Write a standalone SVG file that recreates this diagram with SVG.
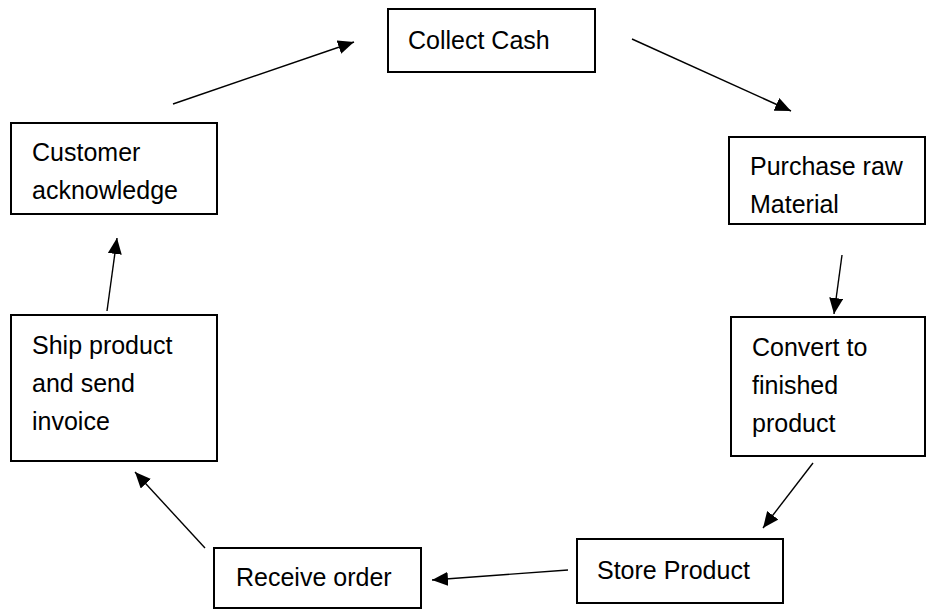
<svg xmlns="http://www.w3.org/2000/svg" width="926" height="609" viewBox="0 0 926 609">
<defs>
<style>
.box{fill:#fff;stroke:#000;stroke-width:2}
.t{font-family:"Liberation Sans",Arial,sans-serif;font-size:25px;fill:#000}
.c{stroke:#000;stroke-width:1.4;fill:none;marker-end:url(#ah)}
</style>
<marker id="ah" markerUnits="userSpaceOnUse" markerWidth="18" markerHeight="14" refX="16" refY="7" orient="auto">
<path d="M0,0 L16,7 L0,14 Z" fill="#000"/>
</marker>
</defs>
<rect width="926" height="609" fill="#fff"/>
<g id="collect-cash"><rect class="box" x="388" y="9" width="207" height="63"/><text class="t" x="408" y="49">Collect Cash</text></g>
<g id="purchase"><rect class="box" x="729" y="137" width="196" height="87"/><text class="t" x="750" y="175">Purchase raw</text><text class="t" x="750" y="213">Material</text></g>
<g id="convert"><rect class="box" x="731" y="317" width="194" height="139"/><text class="t" x="752" y="356">Convert to</text><text class="t" x="752" y="394">finished</text><text class="t" x="752" y="432">product</text></g>
<g id="store"><rect class="box" x="577" y="539" width="206" height="64"/><text class="t" x="597" y="579">Store Product</text></g>
<g id="receive"><rect class="box" x="214" y="548" width="207" height="60"/><text class="t" x="236" y="586">Receive order</text></g>
<g id="ship"><rect class="box" x="11" y="315" width="206" height="146"/><text class="t" x="32" y="354">Ship product</text><text class="t" x="32" y="392">and send</text><text class="t" x="32" y="430">invoice</text></g>
<g id="customer"><rect class="box" x="11" y="123" width="206" height="91"/><text class="t" x="32" y="161">Customer</text><text class="t" x="32" y="199">acknowledge</text></g>
<g id="connectors">
<line class="c" x1="173" y1="104" x2="354" y2="42"/>
<line class="c" x1="632" y1="39" x2="791" y2="111"/>
<line class="c" x1="842" y1="255" x2="834" y2="314"/>
<line class="c" x1="813" y1="463" x2="763" y2="528"/>
<line class="c" x1="568" y1="570" x2="432" y2="580"/>
<line class="c" x1="205" y1="548" x2="135" y2="472"/>
<line class="c" x1="107" y1="311" x2="117" y2="238"/>
</g>
</svg>
